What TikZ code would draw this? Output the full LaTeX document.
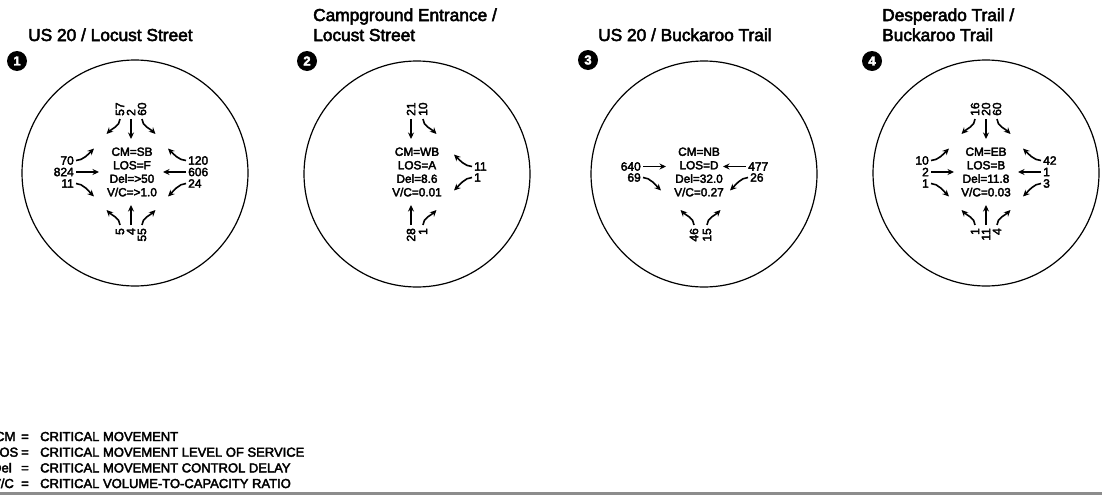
\documentclass[tikz,border=0pt]{standalone}
\usepackage{fontspec}
\setmainfont{Liberation Sans}[FakeBold=3]
\usetikzlibrary{arrows.meta}
\tikzset{
  mvline/.style={line width=1.6pt,-{Stealth[length=6.5pt,width=6pt]}},
  tStr/.style={},
  tSL/.style={to path={.. controls +(0,7) and +(5,-5) .. (\tikztotarget) \tikztonodes}},
  tSR/.style={to path={.. controls +(0,7) and +(-5,-5) .. (\tikztotarget) \tikztonodes}},
  tNL/.style={to path={.. controls +(0,-7) and +(5,5) .. (\tikztotarget) \tikztonodes}},
  tNR/.style={to path={.. controls +(0,-7) and +(-5,5) .. (\tikztotarget) \tikztonodes}},
  tEU/.style={to path={.. controls +(7,0) and +(-5,5) .. (\tikztotarget) \tikztonodes}},
  tED/.style={to path={.. controls +(7,0) and +(-5,-5) .. (\tikztotarget) \tikztonodes}},
  tWU/.style={to path={.. controls +(-7,0) and +(5,5) .. (\tikztotarget) \tikztonodes}},
  tWD/.style={to path={.. controls +(-7,0) and +(5,-5) .. (\tikztotarget) \tikztonodes}},
  vol/.style={font=\fontsize{12}{12}\selectfont, inner sep=0pt},
  vtop/.style={vol, rotate=90, anchor=west},
  vbot/.style={vol, rotate=90, anchor=east},
  vleft/.style={vol, anchor=east},
  vright/.style={vol, anchor=west},
  info/.style={font=\fontsize{11.8}{13.5}\selectfont, align=center, inner sep=0pt},
  ttl/.style={font=\fontsize{17.3}{20}\selectfont, anchor=base west, inner sep=0pt},
  badge/.style={circle, fill=black, text=white, minimum size=20pt, inner sep=0pt, font=\fontsize{13}{13}\selectfont\bfseries},
  ring/.style={circle, draw, line width=1.2pt, minimum size=226pt, inner sep=0pt},
  leg/.style={font=\fontsize{13}{16}\selectfont, anchor=base west, inner sep=0pt},
  rule/.style={line width=2.2pt, draw=black!45}
}
\newcommand\arw[4]{\coordinate (#1s) at #2; \path (#1s) ++#3 coordinate (#1e); \draw[mvline] (#1s) to[#4] (#1e);}
\newcommand\arSL[2]{\arw{#1}{#2}{(-13.5,15)}{tSL}}
\newcommand\arSR[2]{\arw{#1}{#2}{(13.5,15)}{tSR}}
\newcommand\arST[2]{\arw{#1}{#2}{(0,20)}{tStr}}
\newcommand\arNL[2]{\arw{#1}{#2}{(-13.5,-15)}{tNL}}
\newcommand\arNR[2]{\arw{#1}{#2}{(13.5,-15)}{tNR}}
\newcommand\arNT[2]{\arw{#1}{#2}{(0,-20)}{tStr}}
\newcommand\arEU[2]{\arw{#1}{#2}{(18,-12)}{tEU}}
\newcommand\arED[2]{\arw{#1}{#2}{(18,13)}{tED}}
\newcommand\arET[2]{\arw{#1}{#2}{(23,0)}{tStr}}
\newcommand\arWU[2]{\arw{#1}{#2}{(-18,-12)}{tWU}}
\newcommand\arWD[2]{\arw{#1}{#2}{(-18,13)}{tWD}}
\newcommand\arWT[2]{\arw{#1}{#2}{(-23,0)}{tStr}}
\begin{document}
\begin{tikzpicture}[x=1pt,y=-1pt]
\useasboundingbox (0,0) rectangle (1102,498);

% rings
\node[ring] (ring1) at (135,173) {};
\node[ring] (ring2) at (417,174) {};
\node[ring] (ring3) at (704,174) {};
\node[ring] (ring4) at (986,173) {};

% titles
\node[ttl] (t1) at (28,41) {US 20 / Locust Street};
\node[ttl] (t2a) at (313,21) {Campground Entrance /};
\node[ttl] (t2b) at (313,41) {Locust Street};
\node[ttl] (t3) at (598,41) {US 20 / Buckaroo Trail};
\node[ttl] (t4a) at (882,21) {Desperado Trail /};
\node[ttl] (t4b) at (882,41) {Buckaroo Trail};

% badges
\node[badge] (b1) at (17,61) {1};
\node[badge] (b2) at (307,61) {2};
\node[badge] (b3) at (588,60) {3};
\node[badge] (b4) at (872,61) {4};

% ---------- intersection 1
\begin{scope}[shift={(131,172)}]
\node[info] (i1) at (1,0) {CM=SB\\LOS=F\\Del=>50\\V/C=>1.0};
\node[vtop] (n1t1) at (-11,-56) {57};
\node[vtop] (n1t2) at (0,-56) {2};
\node[vtop] (n1t3) at (11,-56) {60};
\arSL{a1t1}{(-11,-53)} \arST{a1t2}{(0,-53)} \arSR{a1t3}{(11,-53)}
\node[vleft] (n1l1) at (-57,-11.5) {70};
\node[vleft] (n1l2) at (-57,0) {824};
\node[vleft] (n1l3) at (-57,11.5) {11};
\arEU{a1l1}{(-55,-11.5)} \arET{a1l2}{(-55,0)} \arED{a1l3}{(-55,11.5)}
\node[vright] (n1r1) at (57,-11.5) {120};
\node[vright] (n1r2) at (57,0) {606};
\node[vright] (n1r3) at (57,11.5) {24};
\arWU{a1r1}{(55,-11.5)} \arWT{a1r2}{(55,0)} \arWD{a1r3}{(55,11.5)}
\node[vbot] (n1b1) at (-11,56) {5};
\node[vbot] (n1b2) at (0,56) {4};
\node[vbot] (n1b3) at (11,56) {55};
\arNL{a1b1}{(-11,53)} \arNT{a1b2}{(0,53)} \arNR{a1b3}{(11,53)}
\end{scope}

% ---------- intersection 2
\begin{scope}[shift={(417,172)}]
\node[info] (i2) at (0,0) {CM=WB\\LOS=A\\Del=8.6\\V/C=0.01};
\node[vtop] (n2t1) at (-6,-56) {21};
\node[vtop] (n2t2) at (6,-56) {10};
\arST{a2t1}{(-6,-53)} \arSR{a2t2}{(6,-53)}
\node[vright] (n2r1) at (57,-5.5) {11};
\node[vright] (n2r2) at (57,5.5) {1};
\arWU{a2r1}{(55,-5.5)} \arWD{a2r2}{(55,5.5)}
\node[vbot] (n2b1) at (-6,56) {28};
\node[vbot] (n2b2) at (6,56) {1};
\arNT{a2b1}{(-6,53)} \arNR{a2b2}{(6,53)}
\end{scope}

% ---------- intersection 3
\begin{scope}[shift={(698,172)}]
\node[info] (i3) at (1,0) {CM=NB\\LOS=D\\Del=32.0\\V/C=0.27};
\node[vleft] (n3l1) at (-57,-5.5) {640};
\node[vleft] (n3l2) at (-57,5.5) {69};
\arET{a3l1}{(-55,-5.5)} \arED{a3l2}{(-55,5.5)}
\node[vright] (n3r1) at (50,-5.5) {477};
\node[vright] (n3r2) at (52,5.5) {26};
\arWT{a3r1}{(48,-5.5)} \arWD{a3r2}{(50,5.5)}
\node[vbot] (n3b1) at (-4,56) {46};
\node[vbot] (n3b2) at (9,56) {15};
\arNL{a3b1}{(-4,53)} \arNR{a3b2}{(9,53)}
\end{scope}

% ---------- intersection 4
\begin{scope}[shift={(986,172)}]
\node[info] (i4) at (0,0) {CM=EB\\LOS=B\\Del=11.8\\V/C=0.03};
\node[vtop] (n4t1) at (-11,-56) {16};
\node[vtop] (n4t2) at (0,-56) {20};
\node[vtop] (n4t3) at (11,-56) {60};
\arSL{a4t1}{(-11,-53)} \arST{a4t2}{(0,-53)} \arSR{a4t3}{(11,-53)}
\node[vleft] (n4l1) at (-57,-11.5) {10};
\node[vleft] (n4l2) at (-57,0) {2};
\node[vleft] (n4l3) at (-57,11.5) {1};
\arEU{a4l1}{(-55,-11.5)} \arET{a4l2}{(-55,0)} \arED{a4l3}{(-55,11.5)}
\node[vright] (n4r1) at (57,-11.5) {42};
\node[vright] (n4r2) at (57,0) {1};
\node[vright] (n4r3) at (57,11.5) {3};
\arWU{a4r1}{(55,-11.5)} \arWT{a4r2}{(55,0)} \arWD{a4r3}{(55,11.5)}
\node[vbot] (n4b1) at (-11,56) {1};
\node[vbot] (n4b2) at (0,56) {11};
\node[vbot] (n4b3) at (11,56) {4};
\arNL{a4b1}{(-11,53)} \arNT{a4b2}{(0,53)} \arNR{a4b3}{(11,53)}
\end{scope}

% legend
\node[leg] (k1a) at (-5,441) {CM};
\node[leg,anchor=base] (k1b) at (25,441) {=};
\node[leg] (k1c) at (40,441) {CRITICAL MOVEMENT};
\node[leg] (k2a) at (-8,456.7) {LOS};
\node[leg,anchor=base] (k2b) at (25,456.7) {=};
\node[leg] (k2c) at (40,456.7) {CRITICAL MOVEMENT LEVEL OF SERVICE};
\node[leg] (k3a) at (-8,472.4) {Del};
\node[leg,anchor=base] (k3b) at (25,472.4) {=};
\node[leg] (k3c) at (40,472.4) {CRITICAL MOVEMENT CONTROL DELAY};
\node[leg] (k4a) at (-8,488) {V/C};
\node[leg,anchor=base] (k4b) at (25,488) {=};
\node[leg] (k4c) at (40,488) {CRITICAL VOLUME-TO-CAPACITY RATIO};

\coordinate (ruleL) at (0,493.5);
\coordinate (ruleR) at (1102,493.5);
\draw[rule] (ruleL) -- (ruleR);
\end{tikzpicture}
\end{document}
